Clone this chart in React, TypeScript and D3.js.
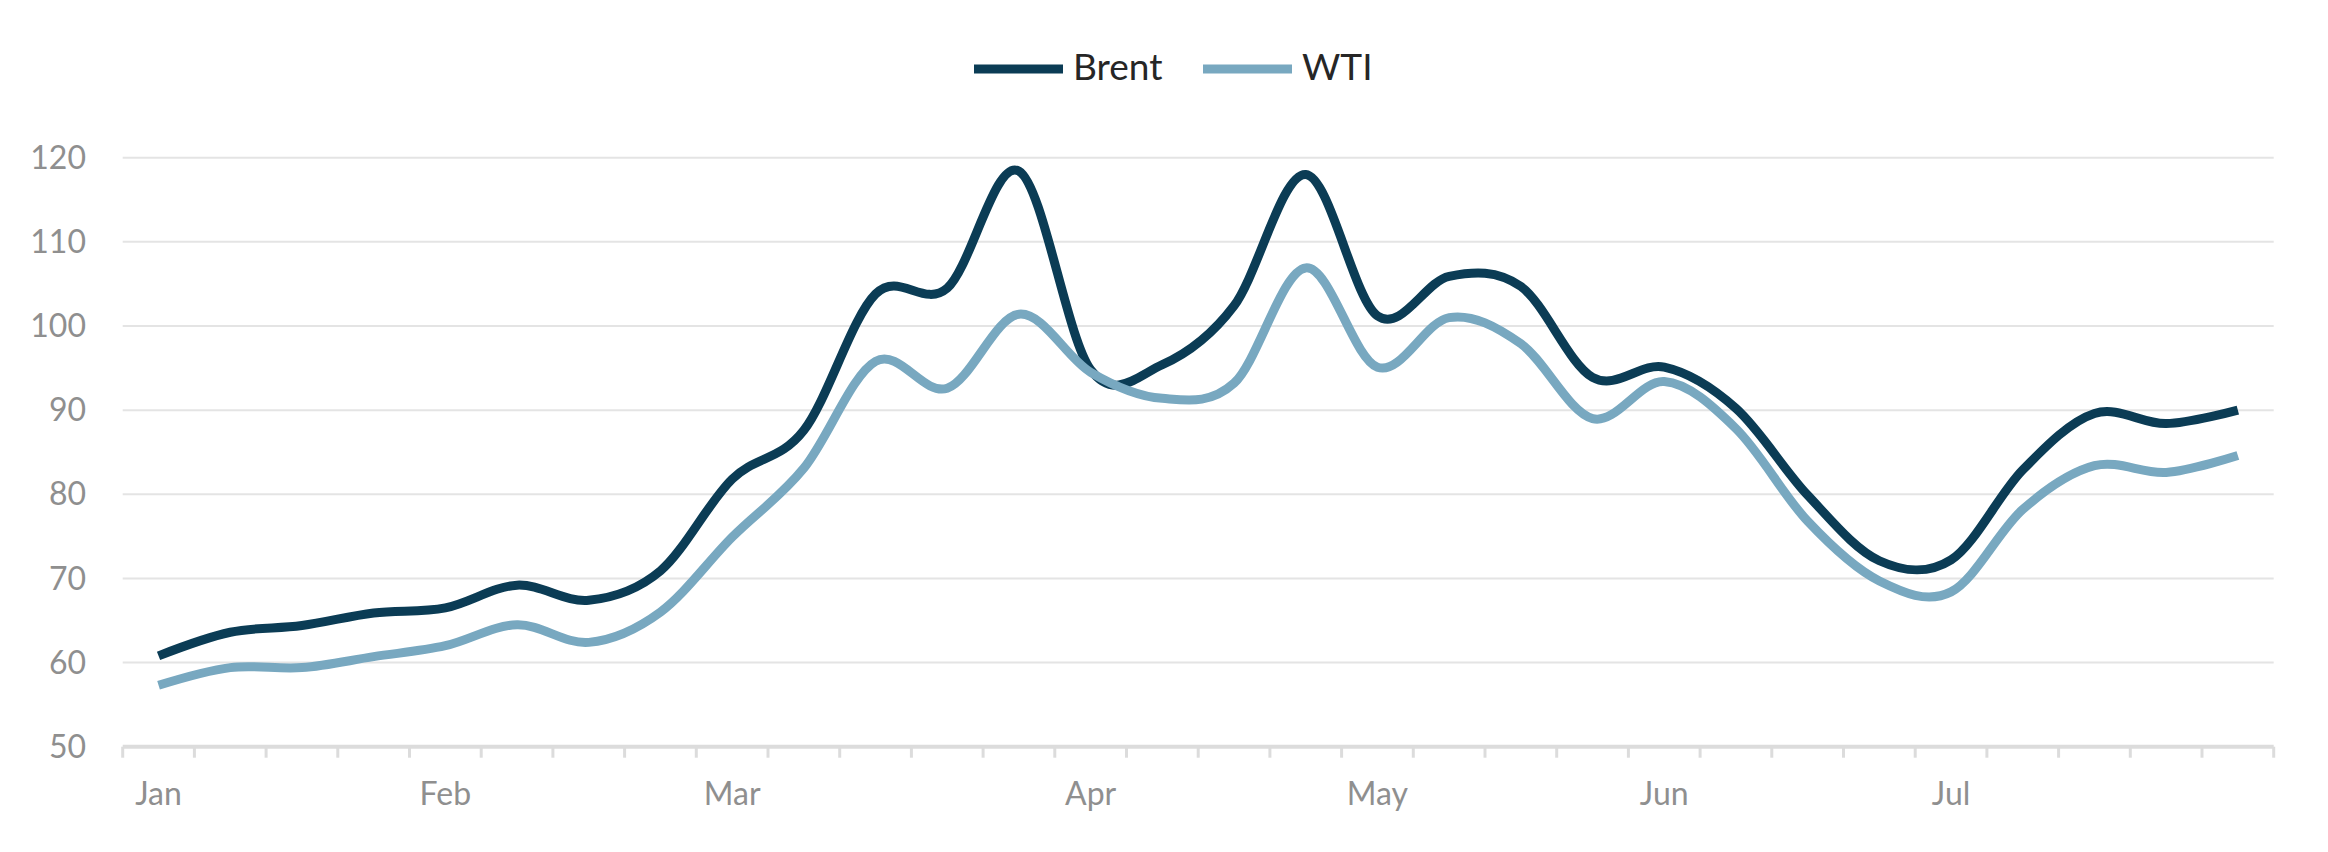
import React from "react";
import * as d3 from "d3";

const weekLabels: string[] = [
  "Jan", "", "", "", "Feb", "", "", "", "Mar", "", "", "", "", "Apr", "", "", "",
  "May", "", "", "", "Jun", "", "", "", "Jul", "", "", "", "",
];

const brent: number[] = [
  60.8, 63.6, 64.4, 65.9, 66.5, 69.2, 67.4, 70.9, 81.8, 87.6,
  103.8, 104.5, 118.4, 94.8, 95.4, 102.4, 118.0, 101.2, 105.9, 104.7,
  93.9, 95.1, 90.2, 79.9, 72.1, 72.2, 82.9, 89.6, 88.4, 90.0,
];

const wti: number[] = [
  57.3, 59.4, 59.4, 60.7, 62.0, 64.5, 62.4, 66.0, 74.9, 83.1,
  95.8, 92.6, 101.4, 94.5, 91.4, 93.2, 106.9, 95.1, 101.0, 97.9,
  89.0, 93.4, 87.8, 76.8, 69.7, 68.4, 78.2, 83.4, 82.6, 84.6,
];

const yTicks: number[] = [50, 60, 70, 80, 90, 100, 110, 120];

const seriesNames = ["Brent", "WTI"];
const seriesColors = ["#0b3c55", "#78a8c0"];

const W = 2328;
const H = 852;
const left = 122.7;
const right = 2273.7;
const top = 157.7;
const bottom = 746.7;

export default function App() {
  const x = d3
    .scaleBand<number>()
    .domain(d3.range(weekLabels.length))
    .range([left, right])
    .padding(0);
  const y = d3.scaleLinear().domain([50, 120]).range([bottom, top]);
  const line = d3
    .line<number>()
    .x((_, i) => (x(i) as number) + x.bandwidth() / 2)
    .y((d) => y(d))
    .curve(d3.curveCardinal.tension(0));

  const font = "Lato, 'Open Sans', sans-serif";
  const series = [brent, wti];

  return (
    <svg
      width={W}
      height={H}
      style={{ position: "fixed", left: 0, top: 0, background: "#fff" }}
    >
      {yTicks
        .filter((t) => t !== 50)
        .map((t) => (
          <line
            key={"g" + t}
            x1={left}
            x2={right}
            y1={y(t)}
            y2={y(t)}
            stroke="#e4e4e4"
            strokeWidth={2}
          />
        ))}
      {yTicks.map((t) => (
        <text
          key={"yl" + t}
          x={86}
          y={y(t)}
          dy="0.35em"
          textAnchor="end"
          fill="#8f8f8f"
          fontFamily={font}
          fontSize={32}
        >
          {t}
        </text>
      ))}
      <line
        x1={left}
        x2={right}
        y1={bottom}
        y2={bottom}
        stroke="#dcdcdc"
        strokeWidth={4}
      />
      {d3.range(weekLabels.length + 1).map((i) => {
        const xx = i < weekLabels.length ? (x(i) as number) : right;
        return (
          <line
            key={"t" + i}
            x1={xx}
            x2={xx}
            y1={bottom}
            y2={bottom + 11}
            stroke="#dcdcdc"
            strokeWidth={3}
          />
        );
      })}
      {weekLabels.map((l, i) =>
        l ? (
          <text
            key={"xl" + i}
            x={(x(i) as number) + x.bandwidth() / 2}
            y={805}
            textAnchor="middle"
            fill="#8f8f8f"
            fontFamily={font}
            fontSize={32}
          >
            {l}
          </text>
        ) : null
      )}
      {series.map((s, k) => (
        <path
          key={"s" + k}
          d={line(s) || ""}
          fill="none"
          stroke={seriesColors[k]}
          strokeWidth={9}
          strokeLinejoin="round"
        />
      ))}
      {seriesNames.map((n, k) => {
        const lx = k === 0 ? 974 : 1203;
        return (
          <g key={"lg" + k}>
            <line
              x1={lx}
              x2={lx + 89}
              y1={69}
              y2={69}
              stroke={seriesColors[k]}
              strokeWidth={9}
            />
            <text
              x={lx + 99}
              y={80}
              fill="#262626"
              fontFamily={font}
              fontSize={37}
            >
              {n}
            </text>
          </g>
        );
      })}
    </svg>
  );
}
